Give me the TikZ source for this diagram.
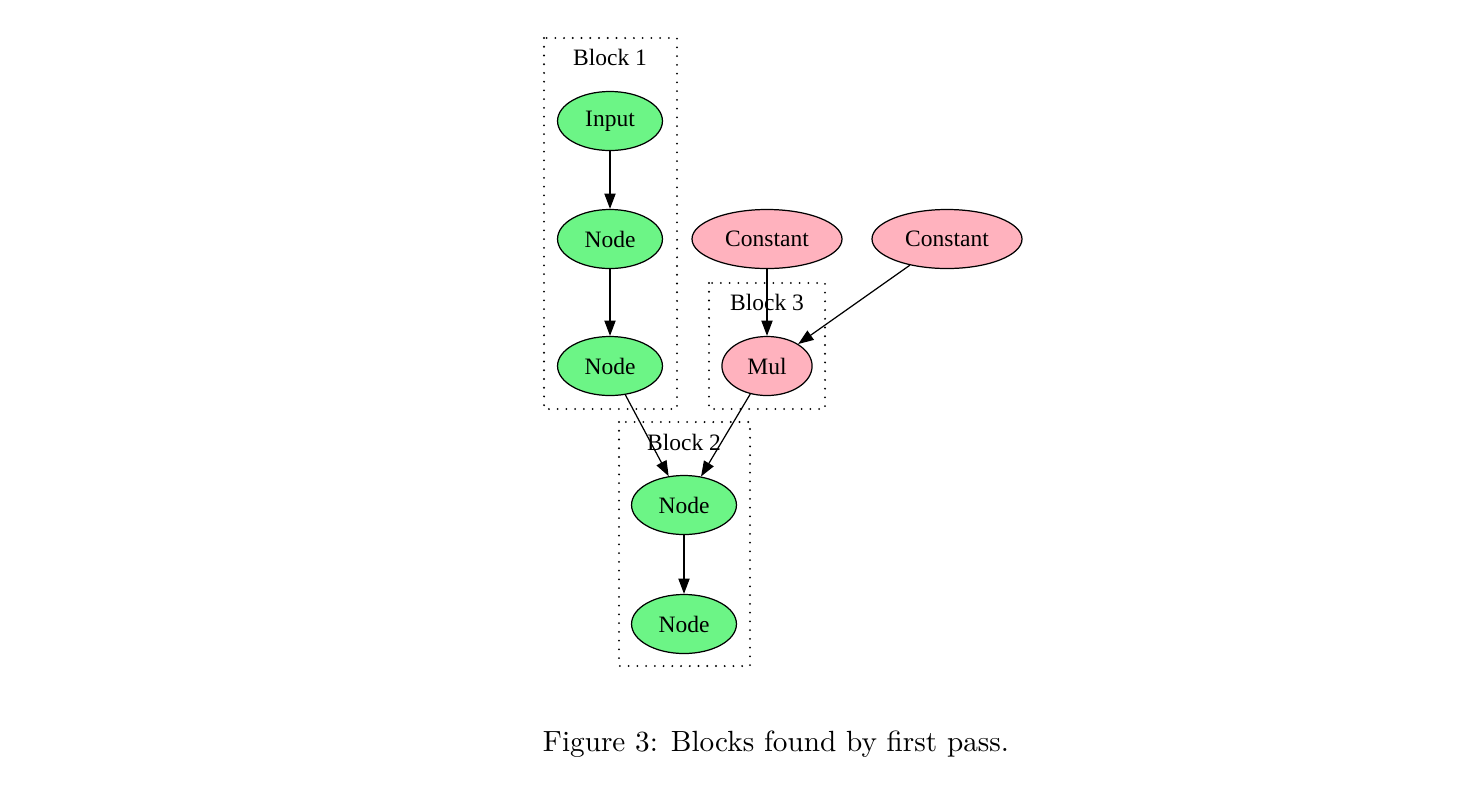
\documentclass[tikz,border=0pt]{standalone}
\usepackage{fontspec}
\newfontfamily\gvfont{Liberation Serif}
\usetikzlibrary{arrows.meta,positioning,shapes.geometric}
\definecolor{opgreen}{RGB}{108,245,134}
\definecolor{oppink}{RGB}{255,178,190}
\tikzset{
    op/.style={draw, line width=0.45pt, ellipse, inner sep=0pt, minimum width=38.4pt, minimum height=21.6pt, font=\gvfont\fontsize{8.6}{10}\selectfont},
    blockbox/.style={line width=0.75pt, line cap=round, dash pattern=on 0pt off 3.2pt},
    blocklabel/.style={font=\gvfont\fontsize{8.6}{10}\selectfont},
    flow/.style={line width=0.45pt, -{Triangle[length=5.6pt, width=4.1pt]}}
}
\begin{document}
\begin{tikzpicture}[x=0.366pt, y=-0.366pt]
    \useasboundingbox (0,0) rectangle (1458,790);
    % blocks
    \draw [blockbox] (544,38) rectangle (677,409);
    \draw [blockbox] (709,283) rectangle (825,409);
    \draw [blockbox] (619,422) rectangle (750,666);
    \node [blocklabel] (l1) at (610,57) {Block 1};
    \node [blocklabel] (l3) at (767,302) {Block 3};
    \node [blocklabel] (l2) at (684,442) {Block 2};
    % nodes
    \node [op, fill=opgreen] (in) at (610,121) {Input};
    \node [op, fill=opgreen] (n1) at (610,239) {Node};
    \node [op, fill=opgreen] (n2) at (610,366) {Node};
    \node [op, fill=oppink, minimum width=54.9pt] (c1) at (767,239) {Constant};
    \node [op, fill=oppink, minimum width=54.9pt] (c2) at (947,239) {Constant};
    \node [op, fill=oppink, minimum width=33pt] (mul) at (767,366) {Mul};
    \node [op, fill=opgreen] (n3) at (684,505) {Node};
    \node [op, fill=opgreen] (n4) at (684,624) {Node};
    % edges
    \draw [flow] (in) -- (n1);
    \draw [flow] (n1) -- (n2);
    \draw [flow] (c1) -- (mul);
    \draw [flow] (c2) -- (mul);
    \draw [flow] (n2) -- (n3);
    \draw [flow] (mul) -- (n3);
    \draw [flow] (n3) -- (n4);
    % caption
    \node [font=\fontsize{10.7}{13}\selectfont] (cap) at (776,744) {Figure 3: Blocks found by first pass.};
\end{tikzpicture}
\end{document}
